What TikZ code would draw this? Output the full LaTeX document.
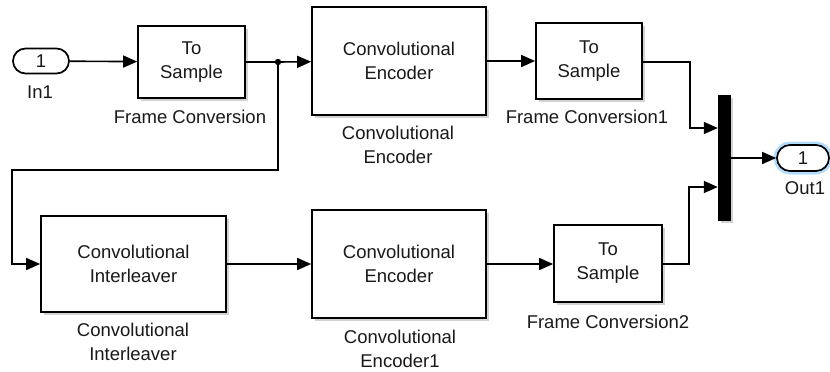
\documentclass[tikz,border=0pt]{standalone}
\usepackage{fontspec}
\setmainfont{Liberation Sans}
\usetikzlibrary{arrows.meta,shadows,shapes.misc}
\begin{document}
\begin{tikzpicture}[x=1pt,y=-1pt,
  txt/.style={font=\fontsize{18.5}{24}\selectfont, align=center, inner sep=0pt, text=black!90},
  blk/.style={draw, line width=1.7pt, fill=white, txt, inner sep=0pt,
     drop shadow={shadow xshift=2.5pt,shadow yshift=-2.5pt,fill=black!35}},
  port/.style={rounded rectangle, draw, line width=1.7pt, fill=white, txt, inner sep=0pt,
     minimum width=56pt, minimum height=25pt},
  lbl/.style={txt},
  sig/.style={line width=1.6pt, -{Triangle[length=14pt,width=12pt]}},
  wire/.style={line width=1.6pt}
]
\useasboundingbox (0,0) rectangle (830,372);

% blocks
\node[port] (in1) at (41,61) {1};
\node[lbl] (in1l) at (40,92) {In1};

\node[blk, minimum width=107pt, minimum height=72pt] (fc) at (191.5,62) {To\\Sample};
\node[lbl] (fcl) at (190,117) {Frame Conversion};

\node[blk, minimum width=174pt, minimum height=108pt] (enc1) at (399,61) {Convolutional\\Encoder};
\node[lbl] (enc1l) at (398,145) {Convolutional\\Encoder};

\node[blk, minimum width=106pt, minimum height=76pt] (fc1) at (589,61) {To\\Sample};
\node[lbl] (fc1l) at (587,117) {Frame Conversion1};

\node[blk, minimum width=185pt, minimum height=96pt] (inter) at (133.5,264) {Convolutional\\Interleaver};
\node[lbl] (interl) at (133,342) {Convolutional\\Interleaver};

\node[blk, minimum width=174pt, minimum height=108pt] (enc2) at (399,264) {Convolutional\\Encoder};
\node[lbl] (enc2l) at (400,349) {Convolutional\\Encoder1};

\node[blk, minimum width=108pt, minimum height=77pt] (fc2) at (608,263.5) {To\\Sample};
\node[lbl] (fc2l) at (608,322) {Frame Conversion2};

\node[draw=black, fill=black, minimum width=12pt, minimum height=125pt, inner sep=0pt,
   drop shadow={shadow xshift=2.5pt,shadow yshift=-2.5pt,fill=black!35}] (mux) at (724,157.5) {};

\node[port, minimum width=52pt, minimum height=26pt,
   preaction={draw=blue!45!cyan!30, line width=7pt}] (out1) at (803,158) {1};
\node[lbl] (out1l) at (805,188) {Out1};

% connectors
\coordinate (j) at (278,62);
\coordinate (b1) at (278,170);
\coordinate (b2) at (12,170);
\coordinate (b3) at (12,264);
\coordinate (u1) at (690,62);
\coordinate (u2) at (690,128);
\coordinate (u3) at (mux.west |- u2);
\coordinate (l1) at (689,264);
\coordinate (l2) at (689,187);
\coordinate (l3) at (mux.west |- l2);

\draw[sig] (in1) -- (fc);
\draw[wire] (fc) -- (j);
\draw[sig] (j) -- (enc1);
\fill (j) circle (3.2pt);
\draw[sig] (j) -- (b1) -- (b2) -- (b3) -- (inter);
\draw[sig] (enc1) -- (fc1);
\draw[sig] (fc1.east |- u1) -- (u1) -- (u2) -- (u3);
\draw[sig] (inter) -- (enc2);
\draw[sig] (enc2) -- (fc2.west |- enc2);
\draw[sig] (fc2.east |- l1) -- (l1) -- (l2) -- (l3);
\draw[sig] (mux.east |- out1) -- (out1);
\end{tikzpicture}
\end{document}
